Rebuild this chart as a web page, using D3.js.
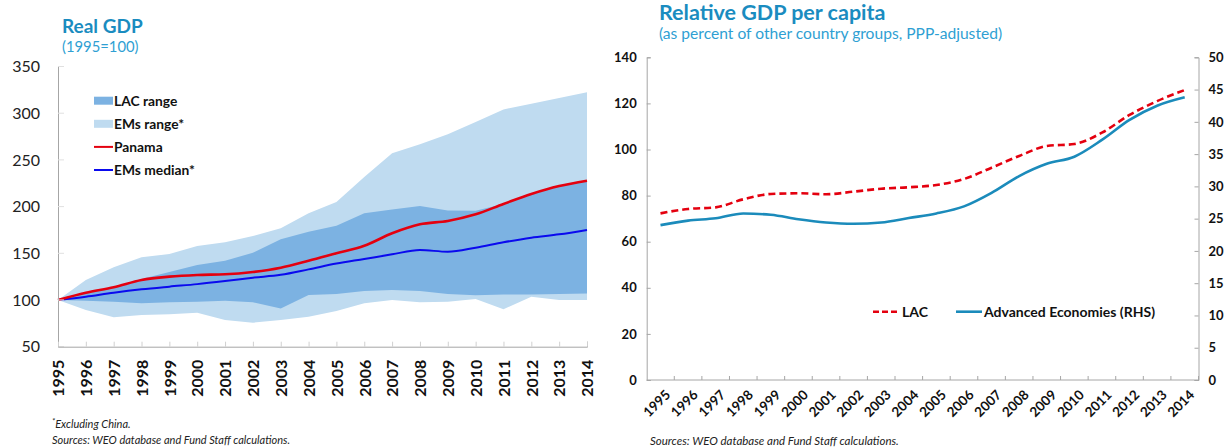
<!DOCTYPE html>
<html>
<head>
<meta charset="utf-8">
<script src="https://cdn.jsdelivr.net/npm/d3@7"></script>
<style>
    body { margin: 0; background: #fff; font-family: Lato, 'Open Sans', sans-serif; }
    svg text { font-family: Lato, 'Open Sans', sans-serif; }
</style>
</head>
<body>
<div id="chart-root"></div>
<script>
// Left panel: real GDP (1995=100)
const years = d3.range(1995, 2015);
const panama = [100, 107.8, 113.6, 121.4, 125, 126.8, 127.5, 130, 134.6, 142, 150, 158, 171.4, 181, 184.6, 191.7, 202.8, 213.5, 222, 227.7];
const emsMedian = [100, 103.6, 107.8, 111.4, 114.3, 117, 120.3, 123.9, 127, 132.8, 139, 143.9, 148.9, 153.5, 151.7, 156, 161.8, 166.7, 170.3, 175];
const lacHigh = [100, 107.5, 114, 122.5, 130, 137.5, 142, 150.6, 165, 173, 179.6, 192.8, 197, 200.6, 195.7, 195.6, 202.8, 213.5, 222, 227.7];
const lacLow = [100, 99.3, 98.2, 96.4, 97.5, 98.2, 99.3, 97.5, 91, 105.4, 106.4, 109.6, 110.7, 109.6, 106.4, 105, 106, 106, 106.4, 107];
const emsHigh = [100, 121.4, 135, 145.7, 149.2, 157.8, 161.8, 168.5, 176.7, 192.8, 205, 231.6, 257, 266.7, 277.4, 290.6, 304, 310.2, 316.3, 322.3];
const emsLow = [100, 89.3, 81.4, 84, 84.7, 86.4, 78.6, 75.7, 78.6, 82.2, 88.2, 96.4, 100, 97.5, 98.2, 101, 90, 103.6, 100, 100];
const leftTicks = [50, 100, 150, 200, 250, 300, 350];

// Right panel: relative GDP per capita
const lac = [72.3, 74.2, 74.9, 78.4, 80.7, 81, 80.6, 81.7, 83, 83.6, 84.6, 87.2, 92.1, 97.2, 101.5, 102.4, 107.3, 115, 121, 125.8];
const advanced = [24, 24.7, 25.05, 25.8, 25.6, 24.9, 24.4, 24.2, 24.4, 25.1, 25.8, 26.9, 29, 31.6, 33.5, 34.6, 37.2, 40.3, 42.5, 43.8];
const rightLeftTicks = [0, 20, 40, 60, 80, 100, 120, 140];
const rightRightTicks = [0, 5, 10, 15, 20, 25, 30, 35, 40, 45, 50];

const titleBlue = '#1a8cc0';
const subBlue = '#2f9fd3';
const axisGrey = '#a6a6a6';

const svg = d3
    .select('#chart-root')
    .append('svg')
    .attr('width', 1228)
    .attr('height', 447);

// ---------- left panel ----------
const xL = d3.scalePoint().domain(years).range([ 58, 587 ]);
const yL = d3.scaleLinear().domain([ 50, 350 ]).range([ 346.7, 66.5 ]);

const left = svg.append('g');

left.append('text')
    .attr('x', 62).attr('y', 33)
    .style('font-size', '19px').style('font-weight', 'bold')
    .style('fill', titleBlue)
    .text('Real GDP');
left.append('text')
    .attr('x', 62).attr('y', 52)
    .style('font-size', '14.8px')
    .style('fill', subBlue)
    .text('(1995=100)');

const band = (hi, lo) => d3.area()
    .x((d, i) => xL(years[i]))
    .y0((d, i) => yL(lo[i]))
    .y1((d, i) => yL(hi[i]));

left.append('path')
    .datum(years)
    .attr('d', band(emsHigh, emsLow))
    .attr('fill', '#bfdbf0');
left.append('path')
    .datum(years)
    .attr('d', band(lacHigh, lacLow))
    .attr('fill', '#7cb2e2');

const lineL = d3.line()
    .x((d, i) => xL(years[i]))
    .y(d => yL(d))
    .curve(d3.curveMonotoneX);

left.append('path')
    .datum(emsMedian)
    .attr('d', lineL)
    .attr('fill', 'none')
    .attr('stroke', '#0a0aee')
    .attr('stroke-width', 2);
left.append('path')
    .datum(panama)
    .attr('d', lineL)
    .attr('fill', 'none')
    .attr('stroke', '#e4000f')
    .attr('stroke-width', 2.6);

// y axis (left panel)
const yAxisL = left.append('g')
    .attr('transform', 'translate(58,0)')
    .call(d3.axisLeft(yL).tickValues(leftTicks).tickSize(0).tickPadding(18));
yAxisL.select('.domain').attr('stroke', axisGrey);
yAxisL.selectAll('text')
    .style('font-size', '16px')
    .style('fill', '#222');
left.append('g')
    .selectAll('line')
    .data(leftTicks)
    .enter()
    .append('line')
    .attr('x1', 58).attr('x2', 64)
    .attr('y1', d => yL(d)).attr('y2', d => yL(d))
    .attr('stroke', '#e0e0e0');

// x axis (left panel)
const xAxisL = left.append('g')
    .attr('transform', 'translate(0,346.7)')
    .call(d3.axisBottom(xL).tickSize(-5).tickPadding(12));
xAxisL.select('.domain').attr('stroke', axisGrey);
xAxisL.selectAll('line').attr('stroke', '#d0d0d0');
xAxisL.selectAll('text')
    .attr('transform', 'rotate(-90)')
    .attr('x', -13)
    .attr('y', 0)
    .attr('dy', '0.36em')
    .style('text-anchor', 'end')
    .style('font-size', '16px')
    .style('font-weight', 'bold')
    .style('fill', '#111');

// legend (left panel)
const legL = [
    { name: 'LAC range', type: 'rect', color: '#7cb2e2' },
    { name: 'EMs range*', type: 'rect', color: '#bfdbf0' },
    { name: 'Panama', type: 'line', color: '#e4000f' },
    { name: 'EMs median*', type: 'line', color: '#0a0aee' }
];
const legItem = left.selectAll('.leg')
    .data(legL)
    .enter()
    .append('g')
    .attr('transform', (d, i) => 'translate(94,' + (100.7 + i * 23.1) + ')');
legItem.filter(d => d.type === 'rect')
    .append('rect')
    .attr('x', 0).attr('y', -4)
    .attr('width', 19).attr('height', 8)
    .attr('fill', d => d.color);
legItem.filter(d => d.type === 'line')
    .append('line')
    .attr('x1', 0).attr('x2', 19)
    .attr('stroke', d => d.color)
    .attr('stroke-width', 2);
legItem.append('text')
    .attr('x', 20).attr('dy', '0.36em')
    .style('font-size', '13.8px').style('font-weight', 'bold')
    .style('fill', '#111')
    .text(d => d.name);

// footnotes (left panel)
const note = left.append('text')
    .attr('x', 52).attr('y', 428)
    .style('font-size', '11px').style('font-style', 'italic')
    .style('fill', '#222');
note.append('tspan').attr('dy', '-4').style('font-size', '8px').text('*');
note.append('tspan').attr('dy', '4').text('Excluding China.');
left.append('text')
    .attr('x', 52).attr('y', 444)
    .style('font-size', '11px').style('font-style', 'italic')
    .style('fill', '#222')
    .text('Sources: WEO database and Fund Staff calculations.');

// ---------- right panel ----------
const xR = d3.scaleBand().domain(years).range([ 646.7, 1198.5 ]);
const yRL = d3.scaleLinear().domain([ 0, 140 ]).range([ 380, 57.3 ]);
const yRR = d3.scaleLinear().domain([ 0, 50 ]).range([ 380, 57.3 ]);
const cx = y => xR(y) + xR.bandwidth() / 2;

const right = svg.append('g');

right.append('text')
    .attr('x', 659).attr('y', 20)
    .style('font-size', '21.5px').style('font-weight', 'bold')
    .style('fill', titleBlue)
    .text('Relative GDP per capita');
right.append('text')
    .attr('x', 659).attr('y', 39)
    .style('font-size', '15.6px')
    .style('fill', subBlue)
    .text('(as percent of other country groups, PPP-adjusted)');

const yAxisRL = right.append('g')
    .attr('transform', 'translate(646.7,0)')
    .call(d3.axisLeft(yRL).tickValues(rightLeftTicks).tickSize(-4).tickPadding(10));
yAxisRL.selectAll('.domain, line').attr('stroke', axisGrey);
yAxisRL.selectAll('text')
    .style('font-size', '13px').style('font-weight', 'bold')
    .style('fill', '#111');

const yAxisRR = right.append('g')
    .attr('transform', 'translate(1198.5,0)')
    .call(d3.axisRight(yRR).tickValues(rightRightTicks).tickSize(-4).tickPadding(10));
yAxisRR.selectAll('.domain, line').attr('stroke', axisGrey);
yAxisRR.selectAll('text')
    .style('font-size', '13px').style('font-weight', 'bold')
    .style('fill', '#111');

// x axis with ticks between categories
const xAxisR = right.append('g').attr('transform', 'translate(0,380)');
xAxisR.append('line')
    .attr('x1', 646.7).attr('x2', 1198.5)
    .attr('stroke', axisGrey);
xAxisR.selectAll('.tick')
    .data(years)
    .enter()
    .append('line')
    .attr('x1', d => xR(d) + xR.bandwidth()).attr('x2', d => xR(d) + xR.bandwidth())
    .attr('y1', 0).attr('y2', -4)
    .attr('stroke', axisGrey);
xAxisR.selectAll('.lbl')
    .data(years)
    .enter()
    .append('text')
    .attr('transform', d => 'translate(' + (cx(d) + 4) + ',9) rotate(-45)')
    .style('text-anchor', 'end')
    .attr('dy', '0.7em')
    .style('font-size', '13.5px').style('font-weight', 'bold')
    .style('fill', '#111')
    .text(d => d);

const lineLac = d3.line()
    .x((d, i) => cx(years[i]))
    .y(d => yRL(d))
    .curve(d3.curveMonotoneX);
const lineAdv = d3.line()
    .x((d, i) => cx(years[i]))
    .y(d => yRR(d))
    .curve(d3.curveMonotoneX);

right.append('path')
    .datum(advanced)
    .attr('d', lineAdv)
    .attr('fill', 'none')
    .attr('stroke', '#1b8bbb')
    .attr('stroke-width', 2.6);
right.append('path')
    .datum(lac)
    .attr('d', lineLac)
    .attr('fill', 'none')
    .attr('stroke', '#e4000f')
    .attr('stroke-width', 2.6)
    .attr('stroke-dasharray', '7,4');

// legend (right panel)
const legR = right.append('g').attr('transform', 'translate(0,311.7)');
legR.append('line')
    .attr('x1', 873).attr('x2', 900)
    .attr('stroke', '#e4000f').attr('stroke-width', 2.6)
    .attr('stroke-dasharray', '6,3');
legR.append('text')
    .attr('x', 902).attr('dy', '0.36em')
    .style('font-size', '14px').style('font-weight', 'bold')
    .style('fill', '#111')
    .text('LAC');
legR.append('line')
    .attr('x1', 956).attr('x2', 982)
    .attr('stroke', '#1b8bbb').attr('stroke-width', 2.6);
legR.append('text')
    .attr('x', 984).attr('dy', '0.36em')
    .style('font-size', '14px').style('font-weight', 'bold')
    .style('fill', '#111')
    .text('Advanced Economies (RHS)');

right.append('text')
    .attr('x', 650).attr('y', 445)
    .style('font-size', '11.5px').style('font-style', 'italic')
    .style('fill', '#222')
    .text('Sources: WEO database and Fund Staff calculations.');
</script>
</body>
</html>
